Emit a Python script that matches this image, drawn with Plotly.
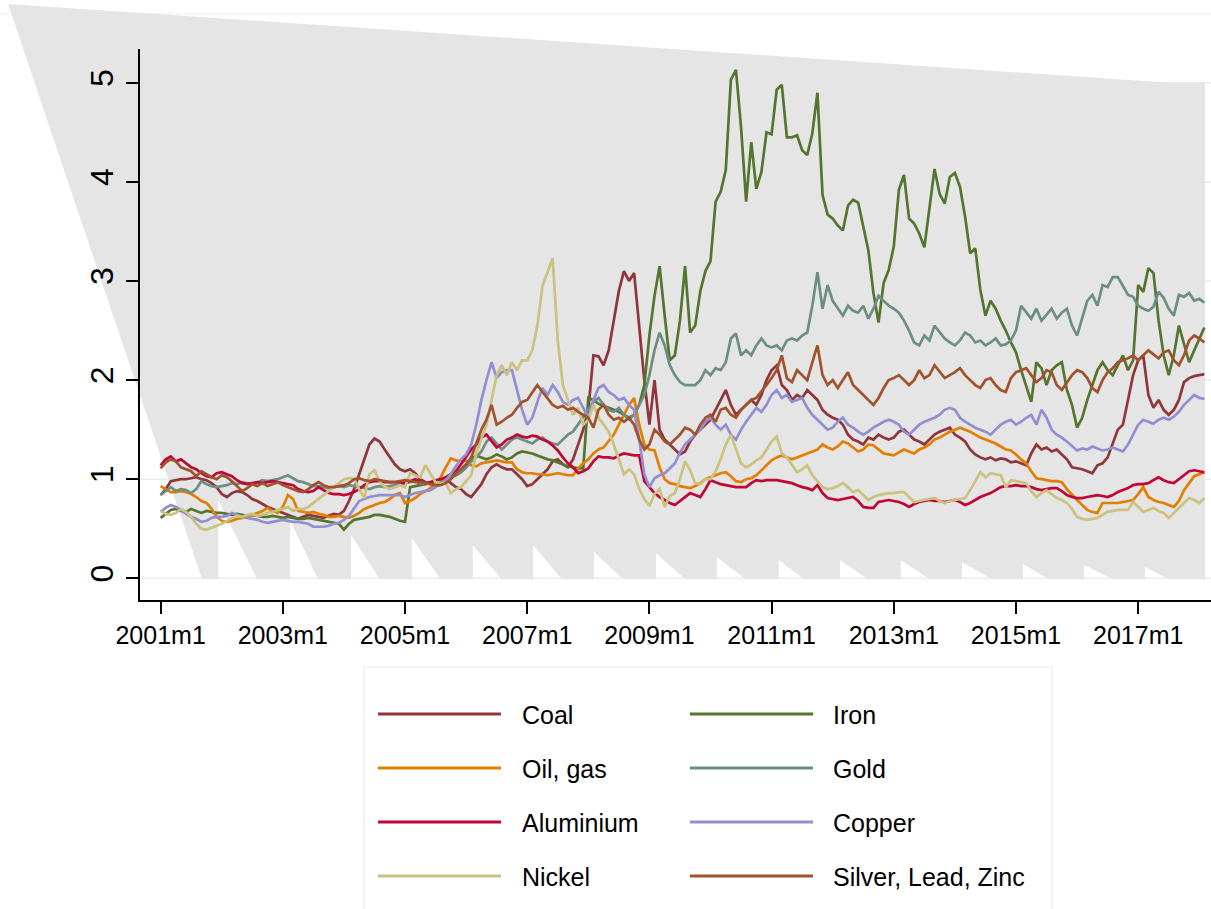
import plotly.graph_objects as go

# ---------------- data (monthly, 2001m1 .. 2018m2) ----------------
START_YEAR = 2001
tick_labels = ["2001m1", "2003m1", "2005m1", "2007m1", "2009m1", "2011m1",
               "2013m1", "2015m1", "2017m1"]
y_ticks = [0, 1, 2, 3, 4, 5]

coal_by_year = [
    [0.84,0.90,0.98,0.99,1.00,1.00,1.01,1.02,1.00,0.99,0.96,0.92],
    [0.85,0.82,0.86,0.88,0.87,0.84,0.80,0.78,0.75,0.72,0.70,0.68],
    [0.66,0.64,0.62,0.60,0.62,0.64,0.63,0.62,0.61,0.63,0.65,0.64],
    [0.68,0.78,0.90,1.05,1.20,1.35,1.41,1.38,1.30,1.22,1.15,1.10],
    [1.08,1.10,1.06,1.00,0.97,0.95,0.96,0.98,1.00,0.96,0.92,0.90],
    [0.85,0.82,0.88,0.95,1.05,1.12,1.15,1.12,1.10,1.10,1.05,1.00],
    [0.93,0.95,1.00,1.05,1.10,1.18,1.20,1.15,1.12,1.20,1.35,1.50],
    [1.70,2.25,2.24,2.15,2.30,2.60,2.90,3.10,3.00,3.08,2.50,2.00],
    [1.55,2.00,1.50,1.40,1.35,1.30,1.25,1.28,1.38,1.45,1.50,1.55],
    [1.60,1.70,1.80,1.90,1.75,1.65,1.70,1.75,1.80,1.75,1.85,2.00],
    [2.10,2.15,1.95,1.90,1.80,1.85,1.82,1.90,1.85,1.80,1.70,1.65],
    [1.62,1.60,1.55,1.45,1.40,1.38,1.35,1.42,1.40,1.45,1.42,1.40],
    [1.42,1.48,1.50,1.45,1.40,1.38,1.35,1.40,1.45,1.48,1.50,1.52],
    [1.45,1.42,1.38,1.30,1.25,1.22,1.20,1.22,1.19,1.21,1.20,1.17],
    [1.18,1.16,1.14,1.26,1.35,1.30,1.32,1.28,1.30,1.25,1.20,1.12],
    [1.11,1.10,1.08,1.06,1.14,1.16,1.22,1.35,1.50,1.55,1.80,2.05],
    [2.20,2.25,1.85,1.72,1.80,1.70,1.65,1.70,1.80,1.98,2.02,2.04],
    [2.05,2.06],
]

iron_by_year = [
    [0.61,0.65,0.69,0.70,0.68,0.67,0.70,0.68,0.66,0.68,0.67,0.66],
    [0.66,0.65,0.64,0.65,0.64,0.63,0.64,0.63,0.62,0.62,0.63,0.62],
    [0.61,0.62,0.61,0.60,0.60,0.61,0.60,0.59,0.58,0.57,0.56,0.55],
    [0.49,0.55,0.59,0.60,0.61,0.62,0.64,0.64,0.63,0.62,0.60,0.58],
    [0.57,0.92,0.93,0.94,0.95,0.96,0.97,0.98,1.00,1.02,1.04,1.07],
    [1.12,1.20,1.24,1.22,1.20,1.22,1.25,1.23,1.20,1.22,1.26,1.28],
    [1.27,1.26,1.24,1.22,1.20,1.19,1.17,1.15,1.13,1.12,1.11,1.11],
    [1.82,1.80,1.76,1.74,1.72,1.70,1.68,1.65,1.62,1.65,1.75,1.95],
    [2.45,2.85,3.15,2.65,2.20,2.25,2.60,3.15,2.48,2.55,2.90,3.10],
    [3.20,3.80,3.90,4.12,5.03,5.13,4.55,3.80,4.40,3.93,4.10,4.50],
    [4.48,4.93,4.98,4.45,4.45,4.47,4.32,4.27,4.49,4.90,3.87,3.67],
    [3.63,3.56,3.51,3.76,3.82,3.79,3.55,3.31,2.88,2.58,2.98,3.11],
    [3.35,3.92,4.07,3.63,3.58,3.48,3.34,3.75,4.13,3.88,3.78,4.05],
    [4.09,3.95,3.65,3.28,3.33,2.91,2.65,2.80,2.72,2.60,2.50,2.38],
    [2.28,2.10,1.95,1.78,2.18,2.12,1.95,2.10,2.15,2.18,1.90,1.75],
    [1.52,1.62,1.80,1.95,2.10,2.18,2.10,2.05,2.15,2.25,2.10,2.20],
    [2.96,2.89,3.13,3.08,2.60,2.25,2.05,2.25,2.55,2.35,2.18,2.30],
    [2.42,2.53],
]

oil_by_year = [
    [0.93,0.90,0.87,0.87,0.88,0.87,0.85,0.82,0.78,0.76,0.70,0.62],
    [0.58,0.57,0.58,0.60,0.61,0.62,0.64,0.66,0.68,0.71,0.68,0.66],
    [0.72,0.84,0.80,0.68,0.67,0.66,0.67,0.65,0.64,0.62,0.62,0.63],
    [0.62,0.61,0.63,0.66,0.70,0.72,0.74,0.76,0.77,0.80,0.84,0.86],
    [0.76,0.78,0.81,0.85,0.88,0.91,0.95,1.02,1.12,1.21,1.19,1.18],
    [1.19,1.14,1.13,1.16,1.17,1.18,1.19,1.18,1.17,1.17,1.10,1.07],
    [1.06,1.06,1.05,1.05,1.04,1.05,1.06,1.05,1.04,1.04,1.11,1.16],
    [1.20,1.26,1.30,1.32,1.38,1.45,1.55,1.65,1.75,1.82,1.55,1.35],
    [1.30,1.29,1.12,1.00,0.96,0.95,0.93,0.92,0.91,0.93,0.96,1.00],
    [1.02,1.04,1.06,1.07,1.03,0.98,0.97,1.00,1.01,1.04,1.09,1.14],
    [1.19,1.22,1.24,1.22,1.20,1.22,1.24,1.26,1.28,1.30,1.35,1.32],
    [1.30,1.33,1.38,1.36,1.32,1.28,1.30,1.35,1.34,1.30,1.26,1.25],
    [1.24,1.27,1.30,1.28,1.26,1.30,1.32,1.35,1.40,1.42,1.45,1.48],
    [1.50,1.52,1.50,1.48,1.45,1.42,1.40,1.38,1.36,1.33,1.30,1.29],
    [1.25,1.20,1.16,1.08,1.01,1.00,0.99,0.98,0.98,0.97,0.90,0.84],
    [0.79,0.74,0.69,0.67,0.66,0.76,0.76,0.76,0.76,0.77,0.78,0.79],
    [0.85,0.92,0.82,0.79,0.77,0.76,0.74,0.72,0.78,0.89,0.96,1.03],
    [1.05,1.07],
]

gold_by_year = [
    [0.84,0.88,0.92,0.88,0.90,0.89,0.86,0.90,0.98,0.95,0.93,0.92],
    [0.93,0.94,0.96,0.95,0.97,0.96,0.95,0.97,0.99,0.98,0.99,1.00],
    [1.02,1.04,1.01,0.98,0.97,0.95,0.93,0.93,0.92,0.91,0.92,0.93],
    [0.92,0.94,0.93,0.92,0.91,0.90,0.92,0.93,0.92,0.93,0.94,0.95],
    [0.96,0.97,0.98,0.96,0.95,0.97,0.98,0.99,1.00,1.02,1.05,1.08],
    [1.12,1.18,1.22,1.28,1.38,1.42,1.36,1.30,1.35,1.40,1.42,1.40],
    [1.38,1.36,1.40,1.42,1.38,1.36,1.35,1.40,1.45,1.48,1.55,1.62],
    [1.70,1.78,1.82,1.75,1.70,1.68,1.72,1.65,1.60,1.65,1.75,1.85],
    [2.05,2.30,2.48,2.35,2.15,2.05,1.98,1.95,1.95,1.95,2.00,2.10],
    [2.05,2.12,2.10,2.18,2.42,2.47,2.25,2.30,2.25,2.35,2.42,2.35],
    [2.33,2.35,2.30,2.40,2.42,2.40,2.45,2.48,2.75,3.09,2.72,2.96],
    [2.80,2.72,2.65,2.75,2.70,2.68,2.75,2.62,2.72,2.85,2.80,2.75],
    [2.72,2.68,2.60,2.50,2.38,2.35,2.45,2.40,2.55,2.48,2.42,2.38],
    [2.35,2.40,2.48,2.45,2.38,2.40,2.35,2.38,2.42,2.35,2.36,2.40],
    [2.50,2.75,2.68,2.62,2.72,2.60,2.66,2.72,2.62,2.68,2.72,2.55],
    [2.45,2.62,2.80,2.86,2.75,2.96,2.94,3.04,3.04,2.95,2.86,2.84],
    [2.75,2.72,2.70,2.74,2.89,2.83,2.72,2.65,2.86,2.84,2.88,2.80],
    [2.82,2.78],
]

aluminium_by_year = [
    [1.14,1.20,1.23,1.18,1.20,1.16,1.12,1.10,1.06,1.03,1.02,1.06],
    [1.07,1.05,1.03,0.99,0.96,0.95,0.96,0.97,0.96,0.97,0.98,0.97],
    [0.96,0.95,0.94,0.90,0.88,0.87,0.88,0.92,0.89,0.86,0.85,0.85],
    [0.84,0.85,0.87,0.90,0.94,0.97,0.98,0.98,0.97,0.97,0.97,0.97],
    [0.96,0.98,1.00,0.98,0.96,0.97,0.99,1.00,1.02,1.05,1.08,1.15],
    [1.22,1.30,1.35,1.42,1.45,1.38,1.32,1.35,1.40,1.42,1.45,1.43],
    [1.42,1.44,1.43,1.40,1.38,1.34,1.29,1.22,1.16,1.12,1.06,1.08],
    [1.11,1.18,1.23,1.22,1.22,1.21,1.24,1.26,1.25,1.24,1.24,0.98],
    [0.92,0.86,0.82,0.79,0.76,0.74,0.78,0.82,0.86,0.84,0.82,0.90],
    [0.99,0.97,0.95,0.94,0.93,0.92,0.92,0.92,0.96,0.99,0.98,0.99],
    [0.99,0.99,0.98,0.97,0.96,0.94,0.92,0.91,0.89,0.94,0.86,0.81],
    [0.80,0.79,0.80,0.81,0.82,0.78,0.72,0.71,0.71,0.77,0.78,0.79],
    [0.78,0.77,0.75,0.72,0.75,0.77,0.78,0.79,0.78,0.78,0.77,0.78],
    [0.79,0.77,0.74,0.76,0.79,0.82,0.84,0.86,0.89,0.92,0.93,0.93],
    [0.94,0.93,0.93,0.92,0.90,0.89,0.90,0.91,0.91,0.88,0.84,0.82],
    [0.81,0.81,0.82,0.83,0.84,0.83,0.82,0.84,0.87,0.89,0.91,0.94],
    [0.95,0.95,0.96,0.99,1.02,0.99,0.97,0.96,1.00,1.04,1.08,1.09],
    [1.08,1.07],
]

copper_by_year = [
    [0.67,0.71,0.74,0.72,0.69,0.65,0.62,0.60,0.57,0.58,0.61,0.62],
    [0.62,0.63,0.66,0.64,0.62,0.61,0.60,0.59,0.57,0.56,0.57,0.58],
    [0.59,0.58,0.57,0.57,0.56,0.55,0.52,0.52,0.52,0.53,0.55,0.56],
    [0.59,0.63,0.70,0.78,0.80,0.82,0.83,0.84,0.84,0.84,0.84,0.84],
    [0.82,0.84,0.86,0.87,0.88,0.89,0.92,0.95,0.99,1.05,1.13,1.20],
    [1.25,1.35,1.55,1.80,2.00,2.18,2.02,2.08,2.10,2.10,1.90,1.70],
    [1.55,1.62,1.78,1.92,1.85,1.95,1.88,1.78,1.75,1.80,1.82,1.72],
    [1.62,1.80,1.92,1.95,1.88,1.85,1.80,1.82,1.75,1.70,1.40,1.05],
    [0.92,1.01,1.04,1.06,1.11,1.16,1.27,1.35,1.40,1.45,1.50,1.58],
    [1.62,1.55,1.50,1.55,1.45,1.40,1.50,1.58,1.65,1.72,1.68,1.75],
    [1.85,1.90,1.82,1.85,1.78,1.80,1.82,1.72,1.65,1.60,1.55,1.50],
    [1.52,1.58,1.62,1.55,1.52,1.48,1.45,1.48,1.52,1.55,1.58,1.60],
    [1.58,1.55,1.48,1.45,1.50,1.55,1.58,1.60,1.62,1.65,1.70,1.72],
    [1.70,1.62,1.58,1.55,1.52,1.50,1.48,1.45,1.50,1.55,1.58,1.60],
    [1.55,1.58,1.62,1.65,1.55,1.70,1.62,1.50,1.45,1.42,1.38,1.33],
    [1.29,1.31,1.30,1.33,1.31,1.29,1.30,1.32,1.30,1.28,1.35,1.45],
    [1.55,1.60,1.58,1.56,1.60,1.62,1.60,1.63,1.68,1.75,1.80,1.85],
    [1.82,1.81],
]

nickel_by_year = [
    [0.68,0.65,0.64,0.66,0.70,0.67,0.62,0.55,0.50,0.49,0.51,0.53],
    [0.55,0.58,0.61,0.63,0.62,0.64,0.65,0.63,0.64,0.66,0.67,0.69],
    [0.70,0.72,0.68,0.70,0.70,0.72,0.76,0.80,0.84,0.88,0.92,0.96],
    [1.00,1.01,1.00,0.90,0.81,1.05,1.09,0.98,0.92,0.90,0.92,0.94],
    [0.92,1.06,1.04,1.02,1.14,1.06,0.97,0.96,0.96,0.86,0.90,0.92],
    [0.98,1.04,1.26,1.40,1.55,1.80,2.05,2.15,2.05,2.18,2.10,2.20],
    [2.20,2.30,2.55,2.95,3.10,3.23,2.40,1.95,1.80,1.65,1.72,1.55],
    [1.60,1.75,1.62,1.55,1.48,1.35,1.20,1.05,1.10,1.05,0.90,0.80],
    [0.73,0.85,0.90,0.72,0.83,0.86,1.00,1.18,1.09,0.96,0.95,1.00],
    [1.00,1.08,1.20,1.35,1.45,1.30,1.16,1.12,1.15,1.19,1.22,1.30],
    [1.38,1.43,1.26,1.22,1.15,1.07,1.10,1.14,1.04,0.98,0.92,0.90],
    [0.91,0.93,0.96,0.92,0.87,0.89,0.84,0.79,0.82,0.84,0.85,0.86],
    [0.86,0.87,0.87,0.82,0.77,0.78,0.79,0.80,0.81,0.78,0.76,0.78],
    [0.79,0.80,0.81,0.89,0.98,1.07,1.02,1.06,1.05,1.04,0.92,0.99],
    [0.98,0.97,0.96,0.88,0.82,0.86,0.89,0.85,0.81,0.79,0.76,0.70],
    [0.62,0.60,0.59,0.60,0.61,0.64,0.67,0.68,0.69,0.69,0.69,0.77],
    [0.72,0.67,0.69,0.71,0.68,0.66,0.61,0.66,0.72,0.76,0.81,0.79],
    [0.76,0.81],
]

silver_by_year = [
    [1.11,1.17,1.20,1.18,1.12,1.10,1.08,1.03,1.08,1.05,1.02,1.00],
    [1.04,1.02,0.98,0.93,0.88,0.91,0.95,0.93,0.96,0.93,0.95,0.97],
    [0.94,0.92,0.90,0.88,0.87,0.90,0.94,0.97,0.94,0.92,0.92,0.93],
    [0.94,0.96,1.00,1.01,0.99,0.98,1.00,0.99,0.98,0.97,0.97,0.98],
    [0.99,0.98,0.97,0.97,0.96,0.95,0.94,0.94,0.96,1.00,1.06,1.10],
    [1.15,1.22,1.35,1.50,1.60,1.75,1.55,1.58,1.62,1.65,1.72,1.78],
    [1.80,1.88,1.95,1.88,1.82,1.75,1.72,1.74,1.70,1.72,1.68,1.65],
    [1.62,1.52,1.70,1.75,1.65,1.60,1.62,1.58,1.62,1.55,1.40,1.30],
    [1.35,1.50,1.45,1.38,1.35,1.40,1.45,1.52,1.50,1.45,1.55,1.62],
    [1.65,1.58,1.70,1.72,1.65,1.62,1.70,1.75,1.80,1.82,1.88,1.95],
    [2.02,2.10,2.25,2.02,1.98,2.10,2.05,2.00,2.18,2.35,2.05,1.95],
    [2.00,1.92,2.00,2.08,1.95,1.90,1.85,1.80,1.75,1.82,1.92,2.00],
    [2.02,2.05,2.00,1.95,2.00,2.10,2.02,2.05,2.15,2.08,2.02,2.05],
    [2.08,2.12,2.05,2.00,1.95,1.92,2.00,2.02,1.95,1.90,1.88,2.02],
    [2.08,2.10,2.12,2.05,1.98,2.02,2.10,2.08,1.95,1.90,1.98,2.05],
    [2.10,2.08,2.02,1.92,1.88,2.00,2.08,2.12,2.18,2.20,2.22,2.25],
    [2.20,2.25,2.30,2.26,2.22,2.28,2.30,2.20,2.15,2.25,2.40,2.45],
    [2.42,2.38],
]

series_names = ["Coal", "Iron", "Oil, gas", "Gold", "Aluminium", "Copper",
                "Nickel", "Silver, Lead, Zinc"]
series_data = [coal_by_year, iron_by_year, oil_by_year, gold_by_year,
               aluminium_by_year, copper_by_year, nickel_by_year, silver_by_year]
series_colors = ["#90353B", "#55752F", "#E37E00", "#6E8E84", "#C10534",
                 "#938DD2", "#CAC27E", "#A0522D"]

# decorative grey backdrop (in data units: month index, value)
BACK_TOP = [(-29.97, 5.796), (198.24, 5.0), (205.12, 5.0)]
BACK_BOTTOM = -0.01
BACK_LEFT_FOOT = 8.13
BACK_RIGHT = 205.12
# notches: (month of vertical edge, height of notch, month where slope meets base)
BACK_NOTCHES = [(11.33, 0.79, 18.99), (25.41, 0.588, 30.91), (37.39, 0.437, 43.09),
                (49.31, 0.407, 55.01), (61.29, 0.336, 66.99), (73.13, 0.336, 78.83),
                (85.11, 0.265, 90.81), (97.29, 0.255, 102.98), (109.21, 0.215, 114.91),
                (121.41, 0.185, 126.36), (133.43, 0.185, 138.93), (145.35, 0.185, 151.11),
                (157.38, 0.165, 163.22), (169.36, 0.145, 174.47), (181.34, 0.134, 187.04),
                (193.33, 0.114, 198.04)]

# ---------------- figure ----------------
FONT = "Liberation Sans, Arial, Helvetica, sans-serif"
XMIN, XMAX = -4.05, 206.3
YMIN, YMAX = -0.219, 5.341
W, H = 1211, 909
ML, MR, MT, MB = 140, 0, 49, 309


def px(t):
    return (t - XMIN) / (XMAX - XMIN)


def py(v):
    return (v - YMIN) / (YMAX - YMIN)


fig = go.Figure()
for name, by_year, color in zip(series_names, series_data, series_colors):
    vals = [v for yr in by_year for v in yr]
    fig.add_trace(go.Scatter(x=list(range(len(vals))), y=vals, mode="lines",
                             name=name, line=dict(color=color, width=2.7),
                             showlegend=False))

shapes = []
# faint gridlines (below the grey backdrop)
for k in y_ticks:
    shapes.append(dict(type="line", xref="paper", yref="y", x0=0, x1=1, y0=k, y1=k,
                       line=dict(color="#e6eef0", width=1.5), layer="below"))
# faint top border line
shapes.append(dict(type="line", xref="paper", yref="paper", x0=-0.2, x1=1,
                   y0=(H - MB - 14) / (H - MT - MB), y1=(H - MB - 14) / (H - MT - MB),
                   line=dict(color="#eaf0f3", width=1.2), layer="below"))

# grey backdrop polygon
pts = list(BACK_TOP) + [(BACK_RIGHT, BACK_BOTTOM)]
for tv, top, te in reversed(BACK_NOTCHES):
    pts += [(te, BACK_BOTTOM), (tv, top), (tv, BACK_BOTTOM)]
pts.append((BACK_LEFT_FOOT, BACK_BOTTOM))
path = "M " + " L ".join(f"{px(t):.5f},{py(v):.5f}" for t, v in pts) + " Z"
shapes.append(dict(type="path", xref="paper", yref="paper", path=path,
                   fillcolor="#e5e5e5", line=dict(width=0), layer="below"))

# manual legend
plot_w = W - ML - MR
plot_h = H - MT - MB


def lx(p):
    return (p - ML) / plot_w


def ly(p):
    return (H - MB - p) / plot_h


shapes.append(dict(type="rect", xref="paper", yref="paper",
                   x0=lx(364), x1=lx(1052), y0=ly(918), y1=ly(667),
                   fillcolor="white", line=dict(color="#e6eef0", width=1.2),
                   layer="below"))
annotations = []
col_line = [(378, 501, 520), (690, 813, 831)]
row_y = [714, 768, 822, 876]
for i, (name, color) in enumerate(zip(series_names, series_colors)):
    r, c = divmod(i, 2)
    x0, x1, xt = col_line[c]
    yy = row_y[r]
    shapes.append(dict(type="line", xref="paper", yref="paper",
                       x0=lx(x0), x1=lx(x1), y0=ly(yy), y1=ly(yy),
                       line=dict(color=color, width=3), layer="above"))
    annotations.append(dict(xref="paper", yref="paper", x=lx(xt), y=ly(yy + 1),
                            text=name, showarrow=False, xanchor="left",
                            yanchor="middle", font=dict(family=FONT, size=25,
                                                        color="black")))

fig.update_layout(
    width=W, height=H,
    margin=dict(l=ML, r=MR, t=MT, b=MB, pad=0),
    paper_bgcolor="white", plot_bgcolor="rgba(0,0,0,0)",
    font=dict(family=FONT, color="black"),
    shapes=shapes, annotations=annotations, showlegend=False,
    xaxis=dict(range=[XMIN, XMAX], tickvals=[24 * i for i in range(len(tick_labels))],
               ticktext=tick_labels, showgrid=False, zeroline=False,
               showline=True, linecolor="black", linewidth=1.5,
               ticks="outside", ticklen=12, tickwidth=1.5, tickcolor="black",
               tickfont=dict(family=FONT, size=25, color="black")),
    yaxis=dict(range=[YMIN, YMAX], tickvals=y_ticks,
               ticktext=[str(v) for v in y_ticks], showgrid=False, zeroline=False,
               showline=True, linecolor="black", linewidth=1.5,
               ticks="outside", ticklen=12, tickwidth=1.5, tickcolor="black",
               tickangle=-90,
               tickfont=dict(family=FONT, size=32, color="black")),
)

fig.write_html("out.html")
